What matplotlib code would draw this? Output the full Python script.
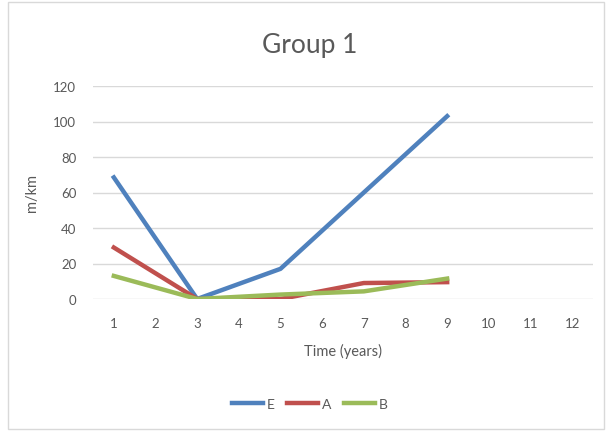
import matplotlib.pyplot as plt
from matplotlib.patches import Rectangle

# data
years = list(range(1, 13))
data_years = [1, 3, 5, 7, 9]
series_e = [68.5, 0, 17, 60, 103]
series_a = [29, 0, 0, 9, 9.5]
series_b = [13, 0, 2.5, 4.3, 11.5]
y_ticks = [0, 20, 40, 60, 80, 100, 120]

text_col = '#595959'
plt.rcParams['font.family'] = ['Lato', 'DejaVu Sans']

fig = plt.figure(figsize=(6.13, 4.35), dpi=100)
fig.patches.append(Rectangle((8 / 613, 5 / 435), 596 / 613, 427 / 435,
                             transform=fig.transFigure, fill=False,
                             edgecolor='#D9D9D9', lw=1))

ax = fig.add_axes([93 / 613, 135 / 435, 500 / 613, 213 / 435])
ax.plot(data_years, series_e, color='#4F81BD', lw=3.2, label='E')
ax.plot(data_years, series_a, color='#C0504D', lw=3.2, label='A')
ax.plot(data_years, series_b, color='#9BBB59', lw=3.2, label='B')

ax.set_xlim(0.5, 12.5)
ax.set_ylim(0, 120)
ax.set_xticks(years)
ax.set_yticks(y_ticks)
ax.grid(axis='y', color='#D9D9D9', lw=1)
ax.set_axisbelow(True)
for s in ax.spines.values():
    s.set_visible(False)
ax.tick_params(length=0, colors=text_col, labelsize=9.5)
ax.tick_params(axis='x', pad=13)
ax.tick_params(axis='y', pad=12)

ax.set_xlabel('Time (years)', color=text_col, fontsize=10.5, labelpad=10)
ax.set_ylabel('m/km', color=text_col, fontsize=10.5, labelpad=10)
fig.text(310 / 613, 1 - 45 / 435, 'Group 1', ha='center', va='center',
         fontsize=19, color=text_col)

leg = fig.legend(loc='center', bbox_to_anchor=(310 / 613, 1 - 405 / 435),
                 ncol=3, frameon=False, fontsize=10, handlelength=2.2,
                 columnspacing=0.9, handletextpad=0.3, labelcolor=text_col)

fig.savefig('out.png', dpi=100)
